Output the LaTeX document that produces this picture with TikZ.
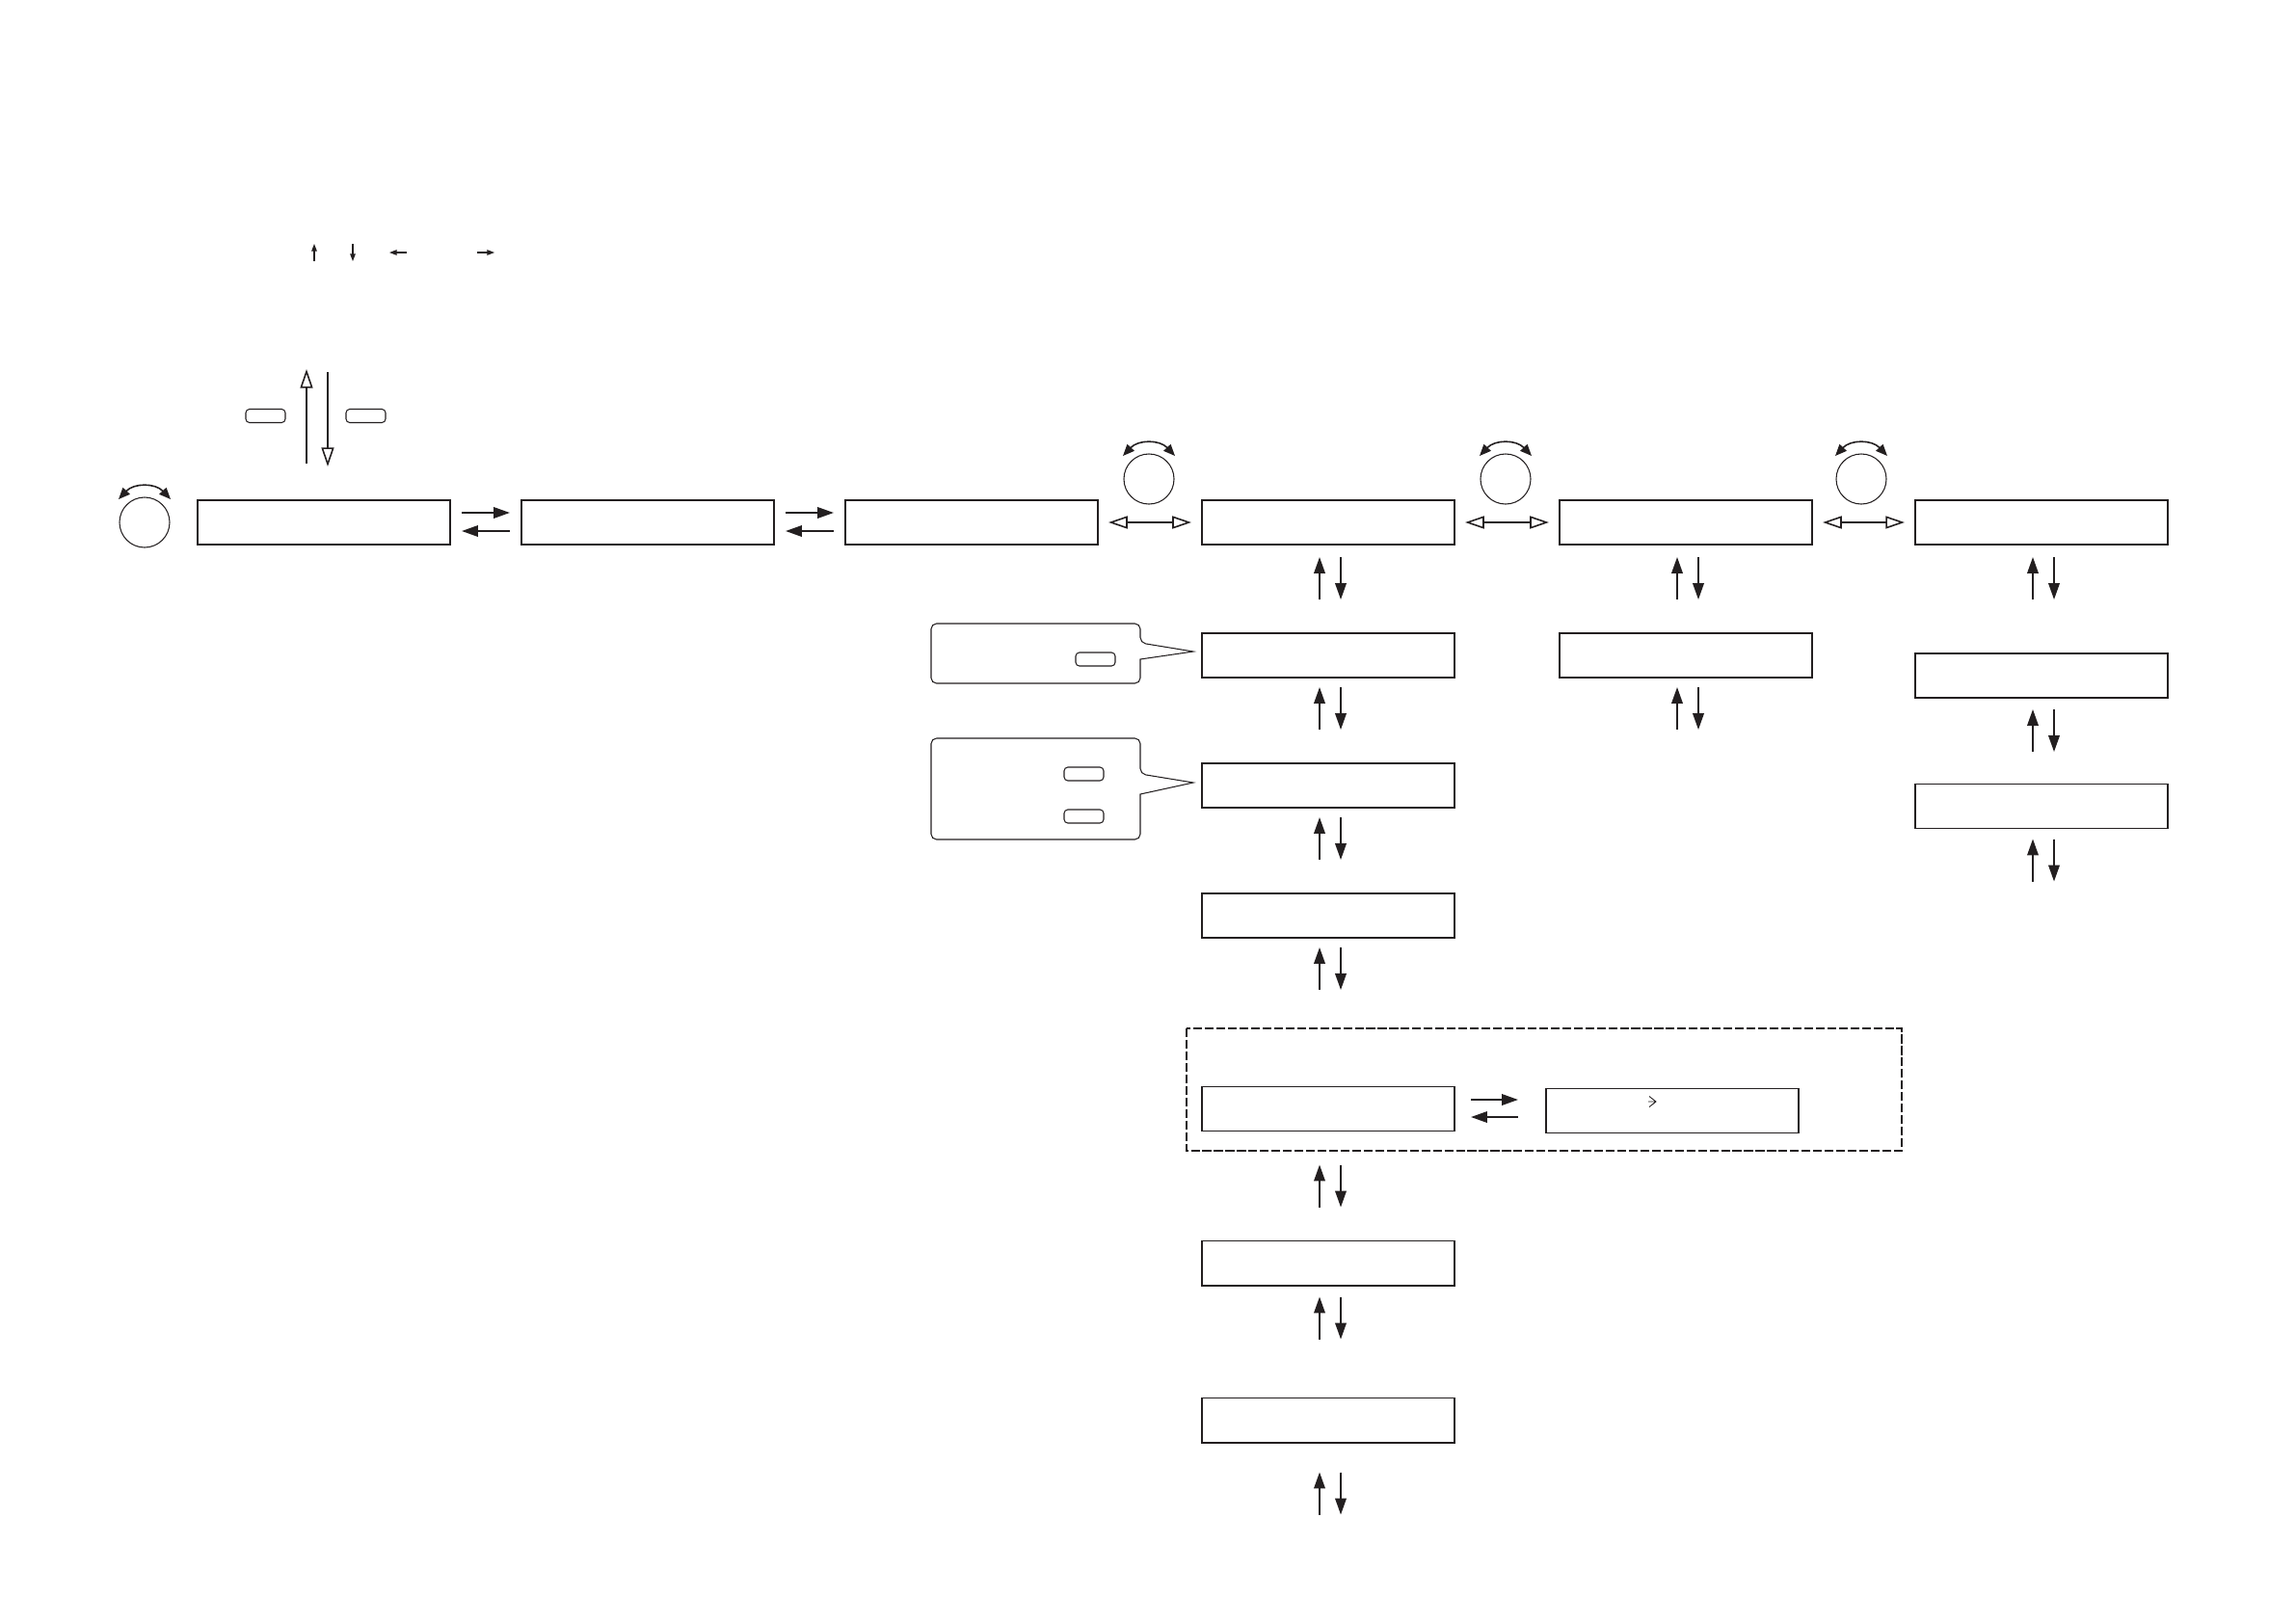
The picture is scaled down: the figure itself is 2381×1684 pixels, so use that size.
\documentclass[tikz,border=0pt]{standalone}
\usepackage{tikz}
\usetikzlibrary{arrows.meta,positioning,calc}
\definecolor{inkline}{HTML}{231F20}
\tikzset{
  dispbox/.style={draw=inkline, line width=0.55pt, minimum width=2.62cm, minimum height=0.46cm, outer sep=0pt, inner sep=0pt},
  keybtn/.style={draw=inkline, line width=0.3pt, rounded corners=1.1pt, minimum width=0.41cm, minimum height=0.14cm, outer sep=0pt, inner sep=0pt},
  knob/.style={circle, draw=inkline, line width=0.3pt, minimum size=0.52cm, outer sep=0pt, inner sep=0pt},
  arr/.style={-{Triangle[length=4.8pt,width=3.3pt]}, line width=0.45pt, draw=inkline, fill=inkline},
  hollowarr/.style={-{Triangle[open,length=5.6pt,width=3.7pt]}, line width=0.45pt, draw=inkline},
  hollowdbl/.style={{Triangle[open,length=5.6pt,width=3.7pt]}-{Triangle[open,length=5.6pt,width=3.7pt]}, line width=0.45pt, draw=inkline},
  tinyarr/.style={-{Triangle[length=2.2pt,width=1.6pt]}, line width=0.3pt, draw=inkline, fill=inkline},
  knobarr/.style={{Triangle[length=3.4pt,width=2.8pt]}-{Triangle[length=3.4pt,width=2.8pt]}, line width=0.45pt, draw=inkline},
  calloutline/.style={draw=inkline, line width=0.3pt},
  dashgroup/.style={draw=inkline, line width=0.45pt, dash pattern=on 2.6pt off 0.8pt}
}
\begin{document}
\begin{tikzpicture}[x=0.01cm,y=-0.01cm]
  \useasboundingbox (0,0) rectangle (2381,1684);
  \node[dispbox] (mainA) at (336,542) {};
  \node[dispbox] (mainB) at (672,542) {};
  \node[dispbox] (mainC) at (1008,542) {};
  \node[dispbox] (mainD) at (1378,542) {};
  \node[dispbox] (mainE) at (1749,542) {};
  \node[dispbox] (mainF) at (2118,542) {};
  \node[dispbox] (subDa) at (1378,680) {};
  \node[dispbox] (subDb) at (1378,815) {};
  \node[dispbox] (subDc) at (1378,950) {};
  \node[dispbox] (subDd) at (1378,1150.5) {};
  \node[dispbox] (subDe) at (1378,1310.5) {};
  \node[dispbox] (subDf) at (1378,1473.5) {};
  \node[dispbox] (subEa) at (1749,680) {};
  \node[dispbox] (subFa) at (2118,701) {};
  \node[dispbox] (subFb) at (2118,836.5) {};
  \node[dispbox] (sideD) at (1735,1152.5) {};
  \draw[dashgroup] (1231,1067) rectangle (1973,1194);

  \node[knob] (knobA) at (150,542) {};
  \node[knob] (knobD) at (1192,497) {};
  \node[knob] (knobE) at (1562,497) {};
  \node[knob] (knobF) at (1931,497) {};
  \foreach \knobname in {knobA,knobD,knobE,knobF}
    \draw[knobarr] ($(\knobname.center)+(-27,-24)$) .. controls ($(\knobname.center)+(-11,-41)$) and ($(\knobname.center)+(11,-41)$) .. ($(\knobname.center)+(27,-24)$);

  \foreach \from/\to in {mainA/mainB,mainB/mainC} {
    \draw[arr] ($(\from.east)+(12,-10)$) -- ($(\to.west)+(-12,-10)$);
    \draw[arr] ($(\to.west)+(-12,9)$) -- ($(\from.east)+(12,9)$);
  }
  \foreach \from/\to in {mainC/mainD,mainD/mainE,mainE/mainF}
    \draw[hollowdbl] ($(\from.east)+(11,0)$) -- ($(\to.west)+(-11,0)$);
  \draw[arr] ($(subDd.east)+(17,-9.5)$) -- ($(sideD.west)+(-29,-11.5)$);
  \draw[arr] ($(sideD.west)+(-29,6.5)$) -- ($(subDd.east)+(17,8.5)$);

  \foreach \boxname/\gap in {mainD/13,subDa/10,subDb/10,subDc/10,subDd/35,subDe/12,subDf/31,mainE/13,subEa/10,mainF/13,subFa/12,subFb/11} {
    \draw[arr] ($(\boxname.south)+(-9,\gap+44)$) -- ($(\boxname.south)+(-9,\gap)$);
    \draw[arr] ($(\boxname.south)+(13,\gap)$) -- ($(\boxname.south)+(13,\gap+44)$);
  }

  \coordinate (modeUpEnd) at (318,383);
  \coordinate (modeUpStart) at (318,481);
  \coordinate (modeDownStart) at (340,386);
  \coordinate (modeDownEnd) at (340,484);
  \draw[hollowarr] (modeUpStart) -- (modeUpEnd);
  \draw[hollowarr] (modeDownStart) -- (modeDownEnd);
  \node[keybtn] (keyUp) at (275.5,431.5) {};
  \node[keybtn] (keyDown) at (379.5,431.5) {};

  \draw[tinyarr] (326,271) -- (326,253);
  \draw[tinyarr] (366,253) -- (366,271);
  \draw[tinyarr] (422,262) -- (404,262);
  \draw[tinyarr] (495,262) -- (513,262);
  \draw[line width=0.25pt, draw=inkline] (1711,1137.5) -- (1718,1143) -- (1711,1148.5) (1710,1143) -- (1718,1143);

  \draw[calloutline] (1075,647) [rounded corners=1.6pt] -- (1183,647) -- (1183,667) [sharp corners] -- (1238,676) -- (1183,684) -- (1183,695) [rounded corners=1.6pt] -- (1183,709) -- (966,709) -- (966,647) -- cycle;
  \node[keybtn] (keyCallA) at (1136.5,684) {};
  \draw[calloutline] (1075,766) [rounded corners=1.6pt] -- (1183,766) -- (1183,803) [sharp corners] -- (1238,812) -- (1183,824) -- (1183,850) [rounded corners=1.6pt] -- (1183,871) -- (966,871) -- (966,766) -- cycle;
  \node[keybtn] (keyCallB) at (1124.5,803) {};
  \node[keybtn] (keyCallC) at (1124.5,847) {};
\end{tikzpicture}
\end{document}
